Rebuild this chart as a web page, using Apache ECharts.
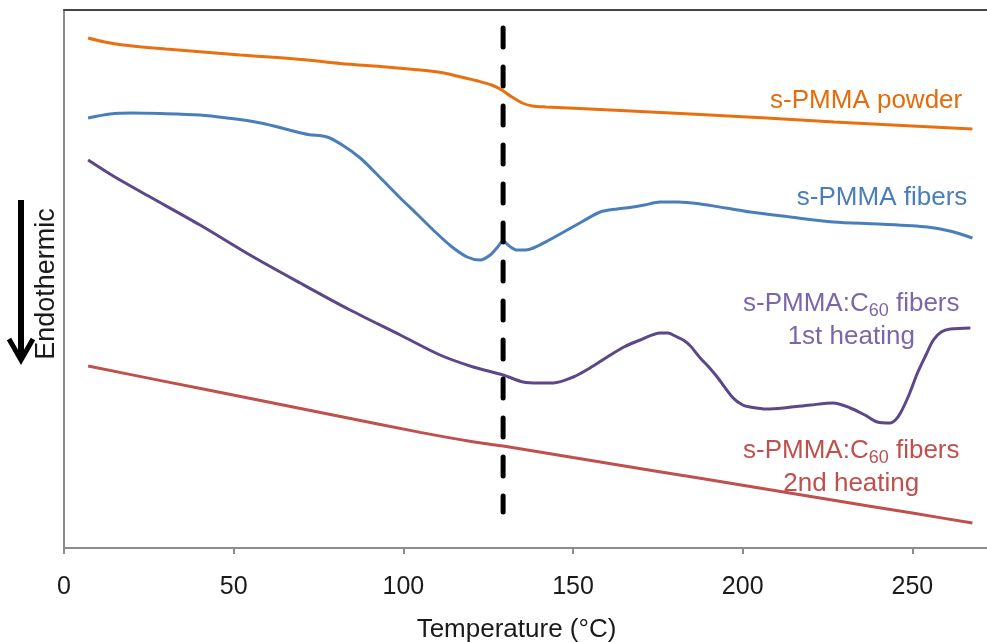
<!DOCTYPE html>
<html>
<head>
<meta charset="utf-8">
<script src="https://cdn.jsdelivr.net/npm/echarts@6/dist/echarts.min.js"></script>
<style>html,body{margin:0;padding:0;background:#fff;overflow:hidden;}#c{width:987px;height:642px;}</style>
</head>
<body>
<div id="c"></div>
<script>
// Temperature (°C) and signal (arbitrary units, endothermic down)
const powderT = [7.1, 12, 17.4, 30, 51.9, 70, 81.4, 95, 105, 112, 117, 122, 126, 129, 132, 135, 138, 142, 152, 167, 187.5, 207, 227, 247, 267.7];
const powderY = [510, 506, 503, 499, 493, 488.5, 484.5, 481, 478, 475, 471, 467, 463, 458, 451, 445, 442, 441, 439.5, 437, 433.5, 430, 426, 422.5, 419];

const fibersT = [7.1, 13.6, 20, 28.3, 40, 48.1, 58, 67.5, 72, 77.5, 82, 87.3, 93, 99.1, 104, 108.8, 114, 118.8, 122.6, 125.6, 127.8, 129.4, 131.2, 133.5, 136, 138.3, 143, 148.3, 153, 158, 163, 167.7, 171, 175.7, 181, 187.5, 195, 202.2, 214, 226.7, 240, 254.4, 261, 267.7];
const fibersY = [430, 434, 435, 434.5, 433, 430, 425, 417, 413.5, 411, 403, 390, 371, 350, 334, 318, 302, 291, 288, 293, 301, 307, 302, 298, 298, 300, 308, 318, 327, 336, 339, 341, 343, 346, 346, 344, 340, 336, 331, 326, 324, 321, 317, 310];

const c60firstT = [7.1, 15, 25.4, 40.1, 54.8, 69.6, 84.3, 99.1, 110.8, 120.6, 129.4, 135.3, 140, 144.2, 150.1, 155, 160.1, 165, 169.8, 175.7, 178, 180.1, 182.5, 184.6, 187.5, 190, 192.5, 197.2, 200, 202.2, 207, 212, 220, 226.7, 231.7, 236, 239.7, 243.5, 245, 246.5, 249, 251.5, 254, 256.2, 258.5, 261.2, 267.1];
const c60firstY = [388, 371, 351, 323, 293, 265, 238, 213, 193, 181, 173, 166, 165, 165, 171, 180, 191, 201, 208, 215, 215, 212, 208, 202, 190, 181, 171, 150, 143, 141, 139, 140, 143, 145, 140, 133, 126, 125, 128, 135, 153, 175, 193, 208, 216, 219, 220];

const c60secondT = [7.1, 30, 55, 80, 105, 120, 129.4, 150, 175, 200, 225, 250, 267.7];
const c60secondY = [182, 166.4, 149.5, 132.5, 115.6, 106.5, 102, 90.5, 76.6, 62.7, 48.8, 34.9, 25];

const tgT = [129.4, 129.4];
const tgY = [520, 36];

const xTicks = [0, 50, 100, 150, 200, 250];

const zip = (a, b) => a.map((v, i) => [v, b[i]]);
const FONT = 'Liberation Sans, Arial, sans-serif';

const chart = echarts.init(document.getElementById('c'), null, {renderer: 'canvas'});

function labelPoint(coord, text, color, pos, align) {
  return {
    symbol: 'circle', symbolSize: 0, silent: true,
    data: [{coord: coord}],
    label: {
      show: true, position: pos, distance: 0, formatter: text, color: color,
      fontSize: 26, lineHeight: 33, fontFamily: FONT, align: align,
      rich: { sub: { fontSize: 18, lineHeight: 17, verticalAlign: 'bottom', color: color, fontFamily: FONT } }
    }
  };
}

chart.setOption({
  animation: false,
  backgroundColor: '#fff',
  grid: {left: 64, right: 0, top: 10, bottom: 94, containLabel: false, outerBoundsMode: 'none'},
  xAxis: [{
    type: 'value', min: 0, max: 272, interval: 50,
    name: 'Temperature (°C)', nameLocation: 'middle', nameGap: 69,
    nameTextStyle: {fontSize: 26, color: '#1a1a1a', fontFamily: FONT, padding: [0, 18, 0, 0]},
    axisLine: {show: true, lineStyle: {color: '#8c8c8c', width: 2}},
    axisTick: {show: true, length: 6, customValues: xTicks, lineStyle: {color: '#8c8c8c', width: 2}},
    axisLabel: {fontSize: 25, color: '#1a1a1a', fontFamily: FONT, margin: 27, customValues: xTicks},
    splitLine: {show: false}
  }, {
    type: 'value', min: 0, max: 272, position: 'top',
    axisLine: {show: true, onZero: false, lineStyle: {color: '#444', width: 2}},
    axisTick: {show: false}, axisLabel: {show: false}, splitLine: {show: false}
  }],
  yAxis: {
    type: 'value', min: 0, max: 538,
    name: 'Endothermic', nameLocation: 'middle', nameRotate: 90, nameGap: 4,
    nameTextStyle: {fontSize: 27, color: '#1a1a1a', fontFamily: FONT, padding: [0, 10, 0, 0]},
    axisLine: {show: true, onZero: false, lineStyle: {color: '#8c8c8c', width: 2}},
    axisTick: {show: false}, axisLabel: {show: false}, splitLine: {show: false}
  },
  graphic: [
    {type: 'line', shape: {x1: 21, y1: 200, x2: 21, y2: 357}, style: {stroke: '#000', lineWidth: 6}, silent: true},
    {type: 'polyline', shape: {points: [[9, 339], [21, 360], [33, 339]]}, style: {stroke: '#000', lineWidth: 5, fill: null}, silent: true}
  ],
  series: [
    {
      name: 's-PMMA powder', type: 'line', data: zip(powderT, powderY), showSymbol: false, symbol: 'none',
      smooth: 0.3, lineStyle: {color: '#E8700F', width: 3}, z: 3,
      markPoint: labelPoint([264.7, 447], 's-PMMA powder', '#E46C0A', 'left', 'right')
    },
    {
      name: 's-PMMA fibers', type: 'line', data: zip(fibersT, fibersY), showSymbol: false, symbol: 'none',
      smooth: 0.3, lineStyle: {color: '#4A7EBB', width: 3}, z: 3,
      markPoint: labelPoint([266.2, 350], 's-PMMA fibers', '#4A7EBB', 'left', 'right')
    },
    {
      name: 's-PMMA:C60 fibers 1st heating', type: 'line', data: zip(c60firstT, c60firstY), showSymbol: false, symbol: 'none',
      smooth: 0.3, lineStyle: {color: '#5A4889', width: 3}, z: 3,
      markPoint: labelPoint([232.0, 227.5], 's-PMMA:C{sub|60} fibers\n1st heating', '#7B66AA', 'inside', 'center')
    },
    {
      name: 's-PMMA:C60 fibers 2nd heating', type: 'line', data: zip(c60secondT, c60secondY), showSymbol: false, symbol: 'none',
      smooth: 0.3, lineStyle: {color: '#C0504D', width: 3}, z: 3,
      markPoint: labelPoint([232.0, 80.5], 's-PMMA:C{sub|60} fibers\n2nd heating', '#C0504D', 'inside', 'center')
    },
    {
      name: 'Tg', type: 'line', data: zip(tgT, tgY), showSymbol: false, symbol: 'none',
      lineStyle: {color: '#000', width: 5, type: [19, 20], cap: 'round'}, z: 4
    }
  ]
});
</script>
</body>
</html>
